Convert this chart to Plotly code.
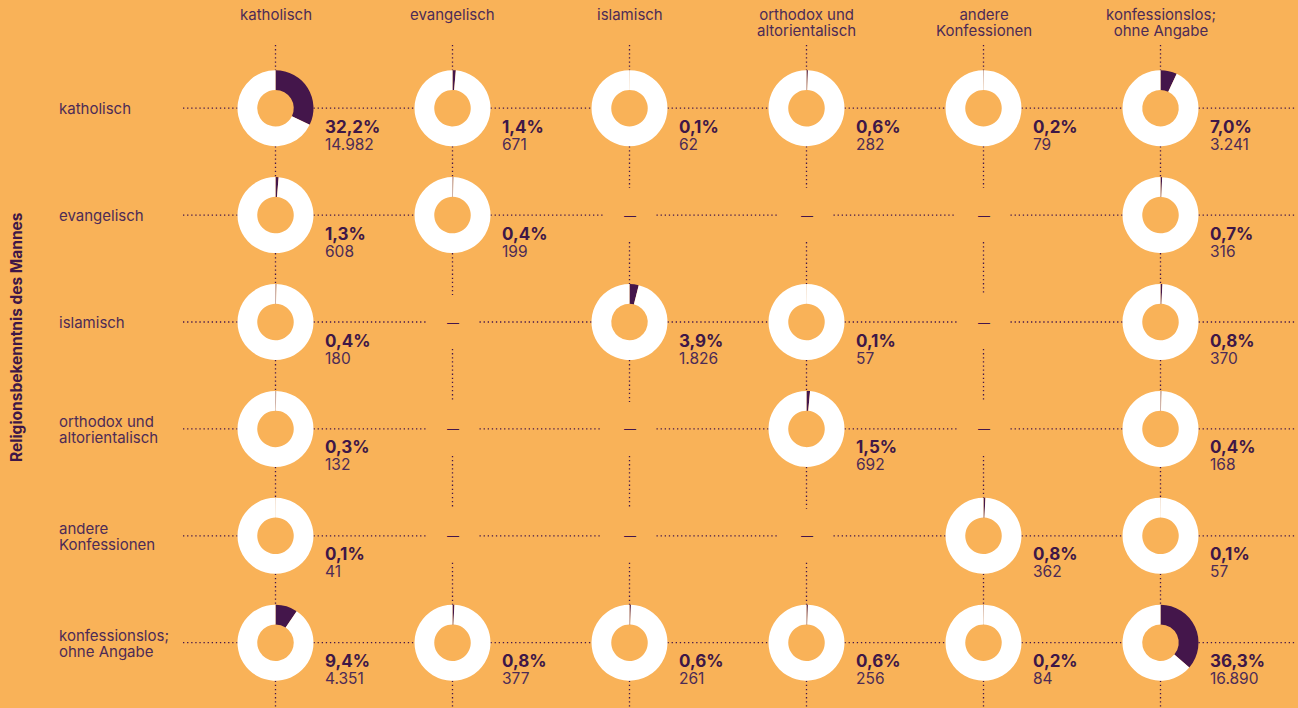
import plotly.graph_objects as go

# Religion of the woman (columns) and of the man (rows)
col_labels = ["katholisch", "evangelisch", "islamisch", "orthodox und\naltorientalisch",
              "andere\nKonfessionen", "konfessionslos;\nohne Angabe"]
row_labels = ["katholisch", "evangelisch", "islamisch", "orthodox und\naltorientalisch",
              "andere\nKonfessionen", "konfessionslos;\nohne Angabe"]
y_title = "Religionsbekenntnis des Mannes"

# Share of all couples in percent (None = no value shown)
share_katholisch = [32.2, 1.4, 0.1, 0.6, 0.2, 7.0]
share_evangelisch = [1.3, 0.4, None, None, None, 0.7]
share_islamisch = [0.4, None, 3.9, 0.1, None, 0.8]
share_orthodox = [0.3, None, None, 1.5, None, 0.4]
share_andere = [0.1, None, None, None, 0.8, 0.1]
share_konfessionslos = [9.4, 0.8, 0.6, 0.6, 0.2, 36.3]

# Absolute number of couples
count_katholisch = [14982, 671, 62, 282, 79, 3241]
count_evangelisch = [608, 199, None, None, None, 316]
count_islamisch = [180, None, 1826, 57, None, 370]
count_orthodox = [132, None, None, 692, None, 168]
count_andere = [41, None, None, None, 362, 57]
count_konfessionslos = [4351, 377, 261, 256, 84, 16890]

shares = [share_katholisch, share_evangelisch, share_islamisch,
          share_orthodox, share_andere, share_konfessionslos]
counts = [count_katholisch, count_evangelisch, count_islamisch,
          count_orthodox, count_andere, count_konfessionslos]

# ---- styling / geometry ----
W, H = 1298, 708
BG = "#F9B258"
PURPLE = "#44164B"
TEXT = "#4D2B56"
DARK = "#3E1747"
FONT = "Inter"
X0, DX = 275.5, 177.0
Y0, DY = 108.2, 106.9
R = 38.0
DASH_GAP = 27
LINE_LEFT, LINE_RIGHT = 183, 1296
LINE_TOP, LINE_BOTTOM = 45, 708

col_x = [X0 + DX * j for j in range(len(col_labels))]
row_y = [Y0 + DY * i for i in range(len(row_labels))]

fig = go.Figure()


def gap_for(v):
    return R if v is not None else DASH_GAP


# dotted guide lines, interrupted at every cell
hx, hy = [], []
for i, cy in enumerate(row_y):
    start = LINE_LEFT
    for j, cx in enumerate(col_x):
        g = gap_for(shares[i][j])
        hx += [start, cx - g, None]
        hy += [cy, cy, None]
        start = cx + g
    hx += [start, LINE_RIGHT, None]
    hy += [cy, cy, None]
for j, cx in enumerate(col_x):
    start = LINE_TOP
    for i, cy in enumerate(row_y):
        g = gap_for(shares[i][j])
        hx += [cx, cx, None]
        hy += [start, cy - g, None]
        start = cy + g
    hx += [cx, cx, None]
    hy += [start, LINE_BOTTOM, None]

fig.add_trace(go.Scatter(x=hx, y=hy, mode="lines",
                         line=dict(color=PURPLE, width=1.3, dash="1.3px,2.8px"),
                         hoverinfo="skip", showlegend=False))

# donuts
for i, cy in enumerate(row_y):
    for j, cx in enumerate(col_x):
        v = shares[i][j]
        if v is None:
            continue
        fig.add_trace(go.Pie(
            values=[v, 100 - v],
            sort=False, direction="clockwise", rotation=0,
            hole=0.48,
            marker=dict(colors=[PURPLE, "#FFFFFF"], line=dict(width=0)),
            textinfo="none", hoverinfo="skip", showlegend=False,
            domain=dict(x=[(cx - R) / W, (cx + R) / W],
                        y=[1 - (cy + R) / H, 1 - (cy - R) / H]),
        ))

annotations = []


def add_text(x, y, text, size, color=TEXT, xanchor="left", yanchor="middle",
             textangle=0, weight="normal"):
    annotations.append(dict(
        x=x, y=y, xref="x", yref="y", text=text, showarrow=False,
        xanchor=xanchor, yanchor=yanchor, textangle=textangle, align=xanchor,
        font=dict(family=FONT, size=size, color=color, weight=weight),
    ))


def stacked(lines, size):
    # base font size sets the line pitch; spans set the glyph size
    return "<br>".join(f"<span style='font-size:{size}px'>{ln}</span>" for ln in lines)


# value labels and placeholders
for i, cy in enumerate(row_y):
    for j, cx in enumerate(col_x):
        v = shares[i][j]
        if v is None:
            add_text(cx, cy, "\u2014", 12, color=PURPLE, xanchor="center")
            continue
        pct_txt = f"{v:.1f}%".replace(".", ",")
        n_txt = f"{counts[i][j]:,}".replace(",", ".")
        label = (f"<span style='font-size:17px;color:{DARK}'><b>{pct_txt}</b></span><br>"
                 f"<span style='font-size:15.5px'>{n_txt}</span>")
        add_text(cx + 47, cy + 27, label, 13)

# column headers
for j, cx in enumerate(col_x):
    add_text(cx, 2.5, stacked(col_labels[j].split("\n"), 15), 12.3,
             xanchor="center", yanchor="top")

# row labels
for i, cy in enumerate(row_y):
    add_text(57, cy + 0.5, stacked(row_labels[i].split("\n"), 15), 12.3)

add_text(16, 337, y_title, 15.5, color=DARK, xanchor="center", textangle=-90,
         weight="bold")

fig.update_layout(
    width=W, height=H,
    margin=dict(l=0, r=0, t=0, b=0),
    paper_bgcolor=BG, plot_bgcolor=BG,
    xaxis=dict(range=[0, W], visible=False, fixedrange=True),
    yaxis=dict(range=[H, 0], visible=False, fixedrange=True),
    annotations=annotations,
    showlegend=False,
)

fig.write_html("out.html")
